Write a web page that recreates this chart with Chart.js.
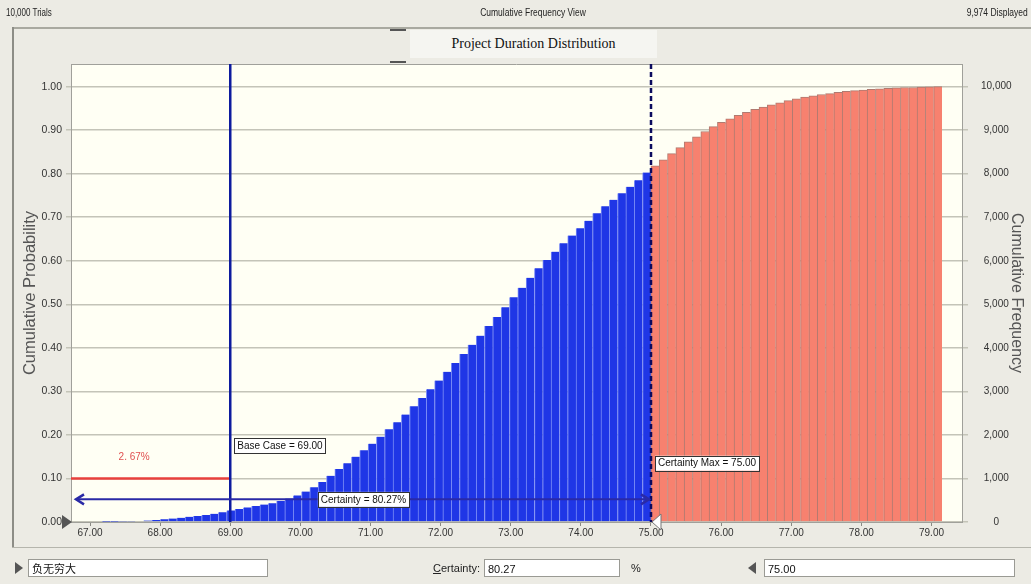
<!DOCTYPE html>
<html>
<head>
<meta charset="utf-8">
<script src="https://cdn.jsdelivr.net/npm/chart.js@4.4.1/dist/chart.umd.min.js"></script>
<style>
html, body { margin: 0; padding: 0; background: #ecebe4; overflow: hidden; }
#wrap { position: relative; width: 1031px; height: 584px; }
#chart { position: absolute; left: 0; top: 0; }
.hdr { position: absolute; top: 7px; font: 10px "Liberation Sans Narrow", "Liberation Sans", sans-serif; color: #222; white-space: nowrap; }
#panelTop { position: absolute; left: 13px; top: 27px; width: 1018px; height: 2px; background: #a9a9a0; }
#panelLeft { position: absolute; left: 12px; top: 27px; width: 2px; height: 521px; background: #8d8d86; }
#panelBottom { position: absolute; left: 12px; top: 547px; width: 1019px; height: 1px; background: #b5b5ac; }
#title { position: absolute; left: 410px; top: 30px; width: 247px; height: 28px; background: #f5f5f1;
  font: 14px "Liberation Serif", "Times New Roman", serif; color: #111; text-align: center; line-height: 28px; }
.mark { position: absolute; left: 390px; width: 16px; height: 2px; background: #555; }
.box { position: absolute; top: 559px; height: 18px; background: #fff; border: 1px solid #9a9a94;
  font: 11px "Liberation Sans Narrow", "Liberation Sans", "Noto Sans CJK SC", sans-serif; line-height: 18px; padding-left: 3px; box-sizing: border-box; color: #111; }
.lbl { position: absolute; top: 562px; font: 11px "Liberation Sans Narrow", "Liberation Sans", sans-serif; color: #222; }
.tri { position: absolute; top: 562px; width: 0; height: 0; border-top: 6px solid transparent; border-bottom: 6px solid transparent; }
</style>
</head>
<body>
<div id="wrap">
  <canvas id="chart" width="1031" height="584"></canvas>
  <div class="hdr" style="left:6px;transform:scaleX(0.8);transform-origin:left">10,000 Trials</div>
  <div class="hdr" style="left:533px;transform:translateX(-50%) scaleX(0.85)">Cumulative Frequency View</div>
  <div class="hdr" style="right:3px;transform:scaleX(0.85);transform-origin:right">9,974 Displayed</div>
  <div id="panelTop"></div>
  <div id="panelLeft"></div>
  <div id="panelBottom"></div>
  <div class="mark" style="top:29px"></div>
  <div class="mark" style="top:61px"></div>
  <div id="title">Project Duration Distribution</div>
  <div class="tri" style="left:15px;border-left:8px solid #555"></div>
  <div class="box" style="left:28px;width:240px">负无穷大</div>
  <div class="lbl" style="left:433px"><u>C</u>ertainty:</div>
  <div class="box" style="left:484px;width:136px">80.27</div>
  <div class="lbl" style="left:631px">%</div>
  <div class="tri" style="left:748px;border-right:8px solid #555"></div>
  <div class="box" style="left:764px;width:251px">75.00</div>
</div>
<script>
// Histogram range (project duration) and cumulative probability per bin
const binLow = 67.17;
const binHigh = 79.15;
const cumProb = [
  0.0003, 0.0006, 0.0009, 0.0014, 0.002, 0.0033, 0.0048, 0.0063, 0.008, 0.0098,
  0.0118, 0.0138, 0.016, 0.0188, 0.0225, 0.0267, 0.030, 0.0335, 0.0365, 0.040,
  0.043, 0.048, 0.054, 0.061, 0.070, 0.080, 0.092, 0.106, 0.122, 0.135,
  0.150, 0.165, 0.180, 0.196, 0.213, 0.229, 0.247, 0.266, 0.285, 0.305,
  0.325, 0.345, 0.365, 0.386, 0.407, 0.428, 0.450, 0.471, 0.493, 0.516,
  0.538, 0.561, 0.583, 0.602, 0.621, 0.640, 0.658, 0.675, 0.692, 0.709,
  0.725, 0.740, 0.755, 0.770, 0.785, 0.8027, 0.818, 0.832, 0.846, 0.860,
  0.873, 0.885, 0.897, 0.908, 0.918, 0.926, 0.934, 0.941, 0.948, 0.953,
  0.958, 0.963, 0.968, 0.972, 0.976, 0.979, 0.982, 0.984, 0.987, 0.989,
  0.991, 0.992, 0.994, 0.995, 0.996, 0.997, 0.998, 0.998, 0.999, 0.9995,
  1.0
];
const durationTicks = [67, 68, 69, 70, 71, 72, 73, 74, 75, 76, 77, 78, 79];
const probTicks = [0, 0.1, 0.2, 0.3, 0.4, 0.5, 0.6, 0.7, 0.8, 0.9, 1.0];
const freqTicks = [0, 1000, 2000, 3000, 4000, 5000, 6000, 7000, 8000, 9000, 10000];
const trials = 10000;

// Markers
const baseCase = 69.00;
const certaintyMax = 75.00;
const certainty = 80.27;
const belowBaseText = "2. 67%";
const redLevel = 0.10;

const binWidth = (binHigh - binLow) / cumProb.length;
const binCenters = cumProb.map((p, i) => binLow + (i + 0.5) * binWidth);

const BLUE = "#1f36e6";
const SALMON = "#f7816f";

function isBlue(ctx) {
    return binCenters[ctx.dataIndex] < certaintyMax;
}

function line(ctx, x1, y1, x2, y2) {
    ctx.beginPath();
    ctx.moveTo(x1, y1);
    ctx.lineTo(x2, y2);
    ctx.stroke();
}

function labelBox(ctx, text, left, yc) {
    ctx.font = '10px "Liberation Sans", Arial, sans-serif';
    const w = ctx.measureText(text).width + 6;
    ctx.fillStyle = "#fff";
    ctx.fillRect(left, yc - 7.5, w, 15);
    ctx.strokeStyle = "#333";
    ctx.lineWidth = 1;
    ctx.strokeRect(Math.round(left) + 0.5, Math.round(yc - 7.5) + 0.5, Math.round(w), 15);
    ctx.fillStyle = "#111";
    ctx.textBaseline = "middle";
    ctx.textAlign = "left";
    ctx.fillText(text, left + 3, yc + 0.5);
}

const overlay = {
    id: "overlay",
    beforeDraw(chart) {
        const { ctx, chartArea: a } = chart;
        ctx.save();
        ctx.fillStyle = "#fffff4";
        ctx.fillRect(a.left, a.top, a.right - a.left, a.bottom - a.top);
        ctx.restore();
    },
    afterDatasetsDraw(chart) {
        const { ctx, chartArea: a, scales: { x, y } } = chart;
        const xb = x.getPixelForValue(baseCase);
        const xm = x.getPixelForValue(certaintyMax);
        ctx.save();

        // frame top
        ctx.strokeStyle = "#a0a09a";
        ctx.lineWidth = 1;
        line(ctx, a.left, a.top + 0.5, a.right, a.top + 0.5);

        // red level line up to base case
        const yr = y.getPixelForValue(redLevel);
        ctx.strokeStyle = "#e8403c";
        ctx.lineWidth = 2.5;
        line(ctx, a.left, yr, xb, yr);
        ctx.fillStyle = "#e05050";
        ctx.font = '10px "Liberation Sans", Arial, sans-serif';
        ctx.textAlign = "center";
        ctx.textBaseline = "middle";
        ctx.fillText(belowBaseText, x.getPixelForValue(67.63), y.getPixelForValue(0.149));

        // base case line
        ctx.strokeStyle = "#0d1b9e";
        ctx.lineWidth = 2.5;
        line(ctx, xb, a.top, xb, a.bottom);

        // certainty max dashed line
        ctx.strokeStyle = "#0b0b5e";
        ctx.setLineDash([5, 3]);
        line(ctx, xm, a.top, xm, a.bottom);
        ctx.setLineDash([]);

        // certainty arrow
        const ya = y.getPixelForValue(0.052);
        const xl = a.left + 5;
        ctx.strokeStyle = "#2a2aa6";
        ctx.lineWidth = 2;
        line(ctx, xl, ya, xm - 2, ya);
        ctx.lineWidth = 2.5;
        ctx.beginPath();
        ctx.moveTo(xl + 8, ya - 5); ctx.lineTo(xl, ya); ctx.lineTo(xl + 8, ya + 5);
        ctx.moveTo(xm - 10, ya - 5); ctx.lineTo(xm - 2, ya); ctx.lineTo(xm - 10, ya + 5);
        ctx.stroke();

        // labels
        labelBox(ctx, "Base Case = " + baseCase.toFixed(2), xb + 4, y.getPixelForValue(0.175));
        labelBox(ctx, "Certainty Max = " + certaintyMax.toFixed(2), xm + 4, y.getPixelForValue(0.135));
        ctx.font = '10px "Liberation Sans", Arial, sans-serif';
        const ct = "Certainty = " + certainty.toFixed(2) + "%";
        const cw = ctx.measureText(ct).width + 6;
        labelBox(ctx, ct, (xl + xm) / 2 - cw / 2, ya);

        // grabber triangles
        const y0 = y.getPixelForValue(0);
        ctx.fillStyle = "#555";
        ctx.beginPath();
        ctx.moveTo(a.left - 9, y0 - 7); ctx.lineTo(a.left + 1, y0); ctx.lineTo(a.left - 9, y0 + 7);
        ctx.closePath();
        ctx.fill();
        ctx.fillStyle = "#fff";
        ctx.strokeStyle = "#777";
        ctx.lineWidth = 1;
        ctx.beginPath();
        ctx.moveTo(xm + 10, y0 - 8); ctx.lineTo(xm + 1, y0); ctx.lineTo(xm + 10, y0 + 8);
        ctx.closePath();
        ctx.fill();
        ctx.stroke();

        ctx.restore();
    }
};

const tickFont = { family: '"Liberation Sans", Arial, sans-serif', size: 10 };

new Chart(document.getElementById("chart"), {
    type: "bar",
    data: {
        datasets: [{
            label: "Cumulative Probability",
            data: binCenters.map((c, i) => ({ x: c, y: cumProb[i] })),
            backgroundColor: ctx => isBlue(ctx) ? BLUE : SALMON,
            borderColor: ctx => isBlue(ctx) ? "#7a8cf6" : "#b07a70",
            borderWidth: ctx => isBlue(ctx) ? { left: 1, right: 0, top: 0, bottom: 0 } : { left: 1, right: 0, top: 1, bottom: 0 },
            borderSkipped: "start",
            barPercentage: 1,
            categoryPercentage: 1,
            yAxisID: "y"
        }]
    },
    options: {
        responsive: false,
        animation: false,
        devicePixelRatio: 1,
        layout: { padding: { top: 64, left: 0, right: 0, bottom: 0 } },
        plugins: { legend: { display: false }, tooltip: { enabled: false } },
        scales: {
            x: {
                type: "linear",
                offset: false,
                min: 66.729,
                max: 79.435,
                afterBuildTicks: s => { s.ticks = durationTicks.map(v => ({ value: v })); },
                afterFit: s => { s.height = 62; },
                ticks: { callback: v => v.toFixed(2), font: tickFont, color: "#333", padding: 1, maxRotation: 0, autoSkip: false },
                grid: { offset: false, drawOnChartArea: false, drawTicks: true, tickLength: 4, color: "#8a8a84" },
                border: { display: true, color: "#a0a09a" }
            },
            y: {
                position: "left",
                min: 0,
                max: 1.052,
                afterBuildTicks: s => { s.ticks = probTicks.map(v => ({ value: v })); },
                afterFit: s => { s.width = 71; },
                ticks: { callback: v => v.toFixed(2), font: { family: tickFont.family, size: 10.5 }, color: "#333", padding: 4 },
                grid: { color: "#c4c4b8", lineWidth: 1.5, tickLength: 5 },
                border: { display: true, color: "#a0a09a" },
                title: { display: true, text: "Cumulative Probability", color: "#555", font: { family: tickFont.family, size: 16.5 }, padding: { top: 21 } }
            },
            y2: {
                position: "right",
                min: 0,
                max: 1.052 * trials,
                afterBuildTicks: s => { s.ticks = freqTicks.map(v => ({ value: v })); },
                afterFit: s => { s.width = 69; },
                ticks: { callback: v => v.toLocaleString("en-US"), font: { family: tickFont.family, size: 10 }, color: "#333", padding: 13, crossAlign: "center" },
                grid: { drawOnChartArea: false, drawTicks: true, tickLength: 6, color: "#c4c4b8", lineWidth: 1.5 },
                border: { display: true, color: "#a0a09a" },
                title: { display: true, text: "Cumulative Frequency", color: "#555", font: { family: tickFont.family, size: 16 }, padding: { top: 5 } }
            }
        }
    },
    plugins: [overlay]
});
</script>
</body>
</html>
